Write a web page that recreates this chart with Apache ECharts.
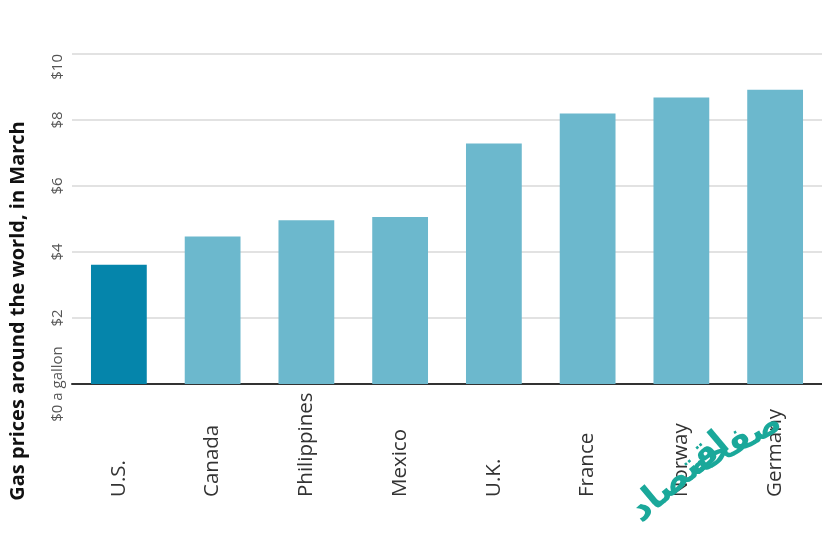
<!DOCTYPE html>
<html>
<head>
<meta charset="utf-8">
<script src="https://cdn.jsdelivr.net/npm/echarts@6/dist/echarts.min.js"></script>
<style>
html,body{margin:0;padding:0;background:#fff;}
#chart{width:822px;height:539px;}
</style>
</head>
<body>
<div id="chart"></div>
<script>
const categories = ['U.S.', 'Canada', 'Philippines', 'Mexico', 'U.K.', 'France', 'Norway', 'Germany'];
const prices = [3.61, 4.47, 4.96, 5.06, 7.29, 8.20, 8.68, 8.92];
const yTicks = [0, 2, 4, 6, 8, 10];
const yTickLabels = ['$0 a gallon', '$2', '$4', '$6', '$8', '$10'];
const titleText = 'Gas prices around the world, in March';
const watermarkTop = 'صفحه';
const watermarkBottom = 'اقتصاد';

const highlightColor = '#0585ab';
const barColor = '#6cb8cd';

const chart = echarts.init(document.getElementById('chart'), null, {renderer: 'canvas'});
chart.setOption({
  backgroundColor: '#ffffff',
  animation: false,
  grid: {left: 72, top: 54, width: 753, height: 330, containLabel: false},
  xAxis: {
    type: 'category',
    data: categories,
    boundaryGap: true,
    axisLine: {show: true, lineStyle: {color: '#333', width: 2}},
    axisTick: {show: false},
    axisLabel: {
      rotate: 90,
      align: 'left',
      verticalAlign: 'middle',
      margin: 113,
      color: '#333',
      fontFamily: 'Open Sans',
      fontSize: 20.5
    }
  },
  yAxis: {
    type: 'value',
    min: yTicks[0],
    max: yTicks[yTicks.length - 1],
    interval: 2,
    axisLine: {show: false},
    axisTick: {show: false},
    splitLine: {show: true, lineStyle: {color: '#e2e2e2', width: 2}},
    axisLabel: {
      rotate: 90,
      margin: 7,
      color: '#555',
      fontFamily: 'Open Sans',
      fontSize: 15,
      alignMaxLabel: 'right',
      formatter: function (v) {
        const i = yTicks.indexOf(v);
        return i >= 0 ? yTickLabels[i] : '';
      }
    }
  },
  series: [{
    type: 'bar',
    barWidth: '59.5%',
    data: prices.map((v, i) => ({value: v, itemStyle: {color: i === 0 ? highlightColor : barColor}})),
    z: 3
  }],
  graphic: [
    {
      type: 'text',
      x: 18, y: 311,
      rotation: Math.PI / 2,
      style: {
        text: titleText,
        fontFamily: 'Open Sans',
        fontWeight: 'bold',
        fontSize: 20,
        fill: '#111',
        textAlign: 'center',
        textVerticalAlign: 'middle'
      }
    },
    {
      type: 'text',
      x: 735, y: 445,
      rotation: 0.5,
      z: 10,
      style: {
        text: watermarkTop,
        fontFamily: 'DejaVu Sans',
        fontWeight: 'bold',
        fontSize: 34,
        fill: '#1aa89a',
        textAlign: 'center',
        textVerticalAlign: 'middle'
      }
    },
    {
      type: 'text',
      x: 680, y: 478,
      rotation: 0.7,
      z: 10,
      style: {
        text: watermarkBottom,
        fontFamily: 'DejaVu Sans',
        fontWeight: 'bold',
        fontSize: 36,
        fill: '#1aa89a',
        textAlign: 'center',
        textVerticalAlign: 'middle'
      }
    }
  ]
});
</script>
</body>
</html>
